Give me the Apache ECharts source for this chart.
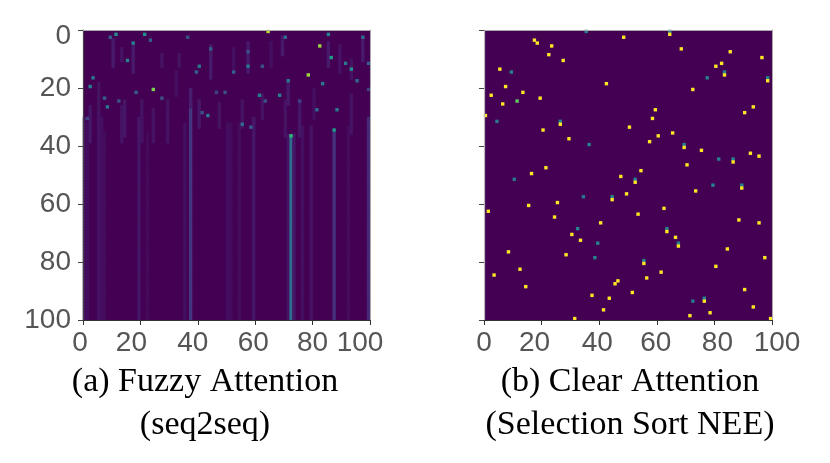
<!DOCTYPE html>
<html>
<head>
<meta charset="utf-8">
<script src="https://cdn.jsdelivr.net/npm/echarts@6.0.0/dist/echarts.min.js"></script>
<style>
  html, body { margin: 0; padding: 0; background: #fff; }
  #main { width: 830px; height: 463px; }
</style>
</head>
<body>
<div id="main"></div>
<script>
// ---- data ----
// tick labels shared by both panels
var tickValues = [0, 20, 40, 60, 80, 100];

// (a) seq2seq: long faint columns running down to the last row  [col, fromRow, value]
var leftStreaks = [
    [0, 30, 0.04], [1, 32, 0.03], [5, 28, 0.05], [6, 30, 0.04], [7, 35, 0.03],
    [19, 30, 0.06], [22, 35, 0.025], [35, 32, 0.04], [37, 26, 0.16], [50, 32, 0.04],
    [51, 32, 0.03], [54, 32, 0.03], [59, 30, 0.06], [71, 36, 0.05], [72, 36, 0.36],
    [73, 36, 0.06], [76, 33, 0.04], [79, 33, 0.05], [87, 35, 0.14], [92, 33, 0.03],
    [99, 30, 0.12]
];

// (a) short faint dashes in the upper rows  [col, fromRow, toRow, value]
var leftSegments = [
    [10, 3, 12, 0.07], [13, 6, 10, 0.05], [17, 5, 14, 0.07], [27, 8, 12, 0.05],
    [33, 8, 12, 0.05], [44, 5, 16, 0.07], [2, 26, 38, 0.06], [13, 26, 38, 0.05],
    [14, 24, 36, 0.06], [20, 24, 38, 0.05], [24, 27, 38, 0.05], [29, 24, 38, 0.05],
    [40, 24, 33, 0.06], [47, 25, 33, 0.05], [57, 4, 14, 0.07], [69, 2, 8, 0.07],
    [85, 4, 12, 0.07], [93, 10, 16, 0.05], [97, 2, 10, 0.07], [71, 17, 25, 0.07],
    [55, 24, 33, 0.05], [62, 22, 30, 0.05], [70, 24, 36, 0.05], [75, 24, 36, 0.06],
    [93, 22, 35, 0.05], [37, 20, 26, 0.08], [5, 18, 28, 0.05], [32, 14, 22, 0.04],
    [52, 6, 14, 0.04], [89, 5, 14, 0.05], [80, 20, 30, 0.04], [65, 4, 12, 0.04]
];

// (a) single brighter cells  [col, row, value]
var leftPoints = [
    [11, 1, 0.5], [9, 2, 0.3], [21, 1, 0.5], [17, 4, 0.45], [23, 3, 0.3], [36, 2, 0.25],
    [15, 10, 0.45], [44, 6, 0.3], [40, 12, 0.4], [39, 14, 0.3], [3, 16, 0.4], [2, 19, 0.45],
    [24, 20, 0.8], [18, 21, 0.3], [27, 23, 0.25], [7, 23, 0.3], [8, 26, 0.4], [43, 29, 0.4],
    [49, 21, 0.25], [46, 21, 0.2], [41, 28, 0.25], [12, 24, 0.25], [1, 30, 0.2],
    [64, 0, 0.9], [70, 2, 0.35], [85, 1, 0.45], [97, 2, 0.35], [82, 5, 0.85], [86, 9, 0.55],
    [57, 7, 0.25], [57, 12, 0.4], [91, 11, 0.4], [93, 13, 0.5], [78, 15, 0.85], [71, 17, 0.4],
    [83, 18, 0.4], [95, 17, 0.35], [99, 11, 0.3], [52, 14, 0.3], [62, 12, 0.25], [61, 22, 0.45],
    [68, 22, 0.45], [63, 24, 0.25], [81, 27, 0.35], [88, 27, 0.4], [55, 32, 0.35], [75, 24, 0.2],
    [87, 34, 0.55], [58, 33, 0.3], [72, 36, 0.65], [99, 20, 0.2]
];

// (b) selection sort NEE: one sharp cell per step  [col, row, value]
var rightPoints = [
    [35, 0, 0.45], [17, 3, 1], [18, 4, 1], [23, 5, 1], [48, 2, 1], [22, 8, 1], [27, 10, 1],
    [5, 13, 1], [9, 14, 0.45], [42, 18, 1], [7, 19, 1], [13, 21, 1], [2, 22, 1], [19, 23, 1],
    [11, 24, 0.75], [6, 25, 1], [0, 29, 1], [4, 31, 0.4], [26, 31, 0.45], [26, 32, 1],
    [50, 33, 1], [20, 34, 1], [29, 37, 1], [36, 39, 0.45], [21, 47, 1], [16, 49, 1],
    [64, 0, 0.45], [64, 1, 1], [68, 6, 1], [85, 7, 1], [96, 9, 1], [82, 11, 1], [80, 12, 1],
    [83, 14, 0.45], [83, 15, 1], [77, 16, 0.45], [98, 16, 0.45], [98, 17, 1], [72, 20, 1],
    [59, 27, 1], [93, 26, 1], [90, 28, 1], [58, 30, 1], [60, 36, 1], [65, 35, 1], [57, 38, 1],
    [69, 39, 0.45], [69, 40, 1], [75, 41, 1], [81, 44, 0.45], [86, 44, 0.45], [86, 45, 1],
    [92, 42, 1], [95, 43, 1], [70, 46, 1], [54, 48, 1],
    [10, 51, 0.4], [47, 50, 1], [25, 59, 1], [15, 60, 1], [1, 62, 1], [34, 57, 0.4],
    [44, 57, 0.45], [44, 58, 1], [49, 56, 1], [24, 64, 1], [40, 66, 1], [32, 68, 0.45],
    [30, 70, 1], [33, 72, 1], [39, 73, 0.45], [8, 76, 1], [28, 77, 1], [38, 78, 0.45],
    [12, 82, 1], [3, 84, 1], [14, 88, 1], [46, 86, 1], [45, 87, 1], [37, 91, 1], [43, 92, 1],
    [41, 96, 1], [31, 99, 1],
    [52, 51, 0.45], [52, 52, 1], [79, 53, 0.45], [89, 53, 0.45], [89, 54, 1], [73, 55, 1],
    [62, 61, 1], [53, 63, 1], [63, 68, 0.45], [63, 69, 1], [66, 71, 1], [67, 73, 0.45],
    [67, 74, 1], [88, 65, 1], [95, 66, 1], [84, 75, 1], [97, 78, 1], [55, 79, 0.45],
    [55, 80, 1], [80, 81, 1], [61, 83, 1], [56, 85, 1], [51, 90, 1], [90, 89, 1],
    [72, 93, 0.4], [76, 92, 0.45], [76, 93, 1], [93, 95, 1], [78, 97, 1], [71, 98, 1],
    [99, 99, 1]
];

var viridis = ['#440154', '#482878', '#3e4989', '#31688e', '#26828e',
               '#1f9e89', '#35b779', '#6ece58', '#b5de2b', '#fde725'];

// ---- build ----
var cellIdx = [];
for (var i = 0; i < 100; i++) cellIdx.push(i);

function buildLeft() {
    var cells = [];
    leftStreaks.forEach(function (s) {
        for (var r = s[1]; r < 100; r++) cells.push([s[0], r, s[2]]);
    });
    leftSegments.forEach(function (s) {
        for (var r = s[1]; r <= s[2]; r++) cells.push([s[0], r, s[3]]);
    });
    leftPoints.forEach(function (p) { cells.push(p); });
    return cells;
}

var tickFont = { fontFamily: 'Liberation Sans', fontSize: 28, color: '#555' };

// small nudges of single tick labels as they sit in the picture
function shiftRich(shifts) {
    var rich = {};
    Object.keys(shifts).forEach(function (k) {
        var s = shifts[k];
        rich['v' + k] = { padding: s < 0 ? [0, -2 * s, 0, 0] : [0, 0, 0, 2 * s] };
    });
    return rich;
}
var leftXShift = { 0: -3, 20: -9, 40: -5, 60: -2, 80: 0, 100: -10 };
var rightXShift = { 0: 0, 20: -7, 40: -2, 60: -1, 80: 3, 100: 5 };

function catAxis(grid, pos, inverse) {
    return { type: 'category', gridIndex: grid, data: cellIdx, position: pos,
             inverse: !!inverse, show: false };
}
function frameAxis(grid, pos, inverse) {
    return { type: 'value', gridIndex: grid, min: 0, max: 100, position: pos, z: 6,
             inverse: !!inverse,
             axisLine: { show: true, onZero: false, lineStyle: { color: '#aaa', width: 1 } },
             axisTick: { show: false }, axisLabel: { show: false }, splitLine: { show: false } };
}
function tickXAxis(grid, shifts) {
    return { type: 'value', gridIndex: grid, min: 0, max: 100, interval: 20, position: 'bottom', z: 6,
             axisLine: { show: true, onZero: false, lineStyle: { color: '#333', width: 1.2 } },
             axisTick: { show: true, length: 5, lineStyle: { color: '#333' } },
             axisLabel: Object.assign({ margin: 9, rich: shiftRich(shifts),
                 formatter: function (v) { return '{v' + v + '|' + v + '}'; } }, tickFont),
             splitLine: { show: false } };
}
function tickYAxis(grid, labels, lineColor) {
    return { type: 'value', gridIndex: grid, min: 0, max: 100, interval: 20, position: 'left', z: 6,
             inverse: true,
             axisLine: { show: true, onZero: false, lineStyle: { color: lineColor, width: 1.2 } },
             axisTick: { show: true, length: 5, lineStyle: { color: '#444' } },
             axisLabel: Object.assign({ show: labels, margin: 12,
                 rich: { top: { padding: [12, 0, 0, 0] } },
                 formatter: function (v) { return v === 0 ? '{top|0}' : String(v); } }, tickFont),
             splitLine: { show: false } };
}

var chart = echarts.init(document.getElementById('main'));

var option = {
    backgroundColor: '#fff',
    animation: false,
    title: [
        { text: '(a) Fuzzy Attention\n(seq2seq)', left: 205, top: 361, textAlign: 'center', padding: 0,
          textStyle: { fontFamily: 'Liberation Serif', fontSize: 34, lineHeight: 43,
                       fontWeight: 'normal', color: '#000' } },
        { text: '(b) Clear Attention\n(Selection Sort NEE)', left: 630, top: 361, textAlign: 'center', padding: 0,
          textStyle: { fontFamily: 'Liberation Serif', fontSize: 34, lineHeight: 43,
                       fontWeight: 'normal', color: '#000' } }
    ],
    grid: [
        { left: 83, top: 30, width: 287, height: 290, show: true,
          backgroundColor: '#440154', borderWidth: 0 },
        { left: 484, top: 30, width: 288, height: 290, show: true,
          backgroundColor: '#440154', borderWidth: 0 }
    ],
    xAxis: [
        catAxis(0, 'bottom'), tickXAxis(0, leftXShift), frameAxis(0, 'top'),
        catAxis(1, 'bottom'), tickXAxis(1, rightXShift), frameAxis(1, 'top')
    ],
    yAxis: [
        catAxis(0, 'left', true), tickYAxis(0, true, '#444'), frameAxis(0, 'right', true),
        catAxis(1, 'left', true), tickYAxis(1, false, '#bbb'), frameAxis(1, 'right', true)
    ],
    visualMap: {
        type: 'continuous', show: false, min: 0, max: 1, seriesIndex: [0, 1],
        inRange: { color: viridis }
    },
    series: [
        { type: 'heatmap', xAxisIndex: 0, yAxisIndex: 0, data: buildLeft(),
          itemStyle: { borderWidth: 0 }, emphasis: { disabled: true }, progressive: 0 },
        { type: 'heatmap', xAxisIndex: 3, yAxisIndex: 3, data: rightPoints,
          itemStyle: { borderWidth: 0 }, emphasis: { disabled: true }, progressive: 0 }
    ]
};

chart.setOption(option);
</script>
</body>
</html>
